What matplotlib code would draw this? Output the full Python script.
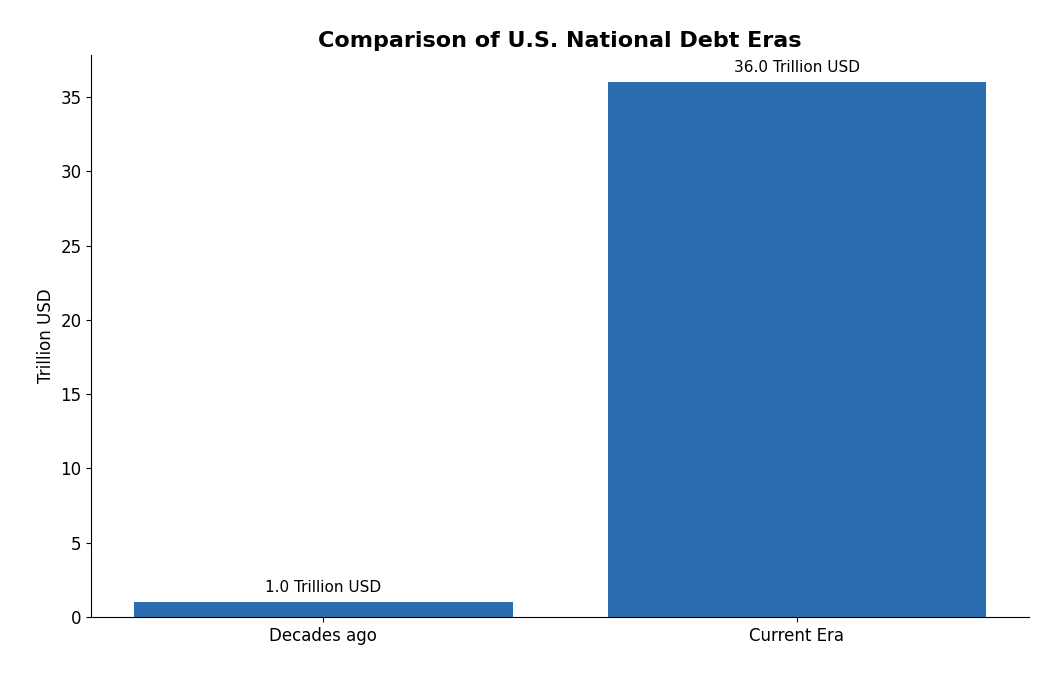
import matplotlib
matplotlib.use("Agg")
import matplotlib.pyplot as plt

categories = ["Decades ago", "Current Era"]
values = [1.0, 36.0]

fig, ax = plt.subplots(figsize=(10.5, 6.75), dpi=100)
bars = ax.bar(categories, values, color="#2c6daf", width=0.8)
for b, v in zip(bars, values):
    ax.text(b.get_x() + b.get_width()/2, v + 0.5, f"{v:.1f} Trillion USD",
            ha="center", va="bottom", fontsize=11)
ax.set_ylim(0, 37.8)
ax.set_ylabel("Trillion USD", fontsize=12)
ax.set_title("Comparison of U.S. National Debt Eras", fontsize=16, fontweight="bold")
ax.spines["top"].set_visible(False)
ax.spines["right"].set_visible(False)
ax.tick_params(labelsize=12)
plt.subplots_adjust(left=0.087, right=0.98, top=0.918, bottom=0.086)
fig.savefig("out.png")
